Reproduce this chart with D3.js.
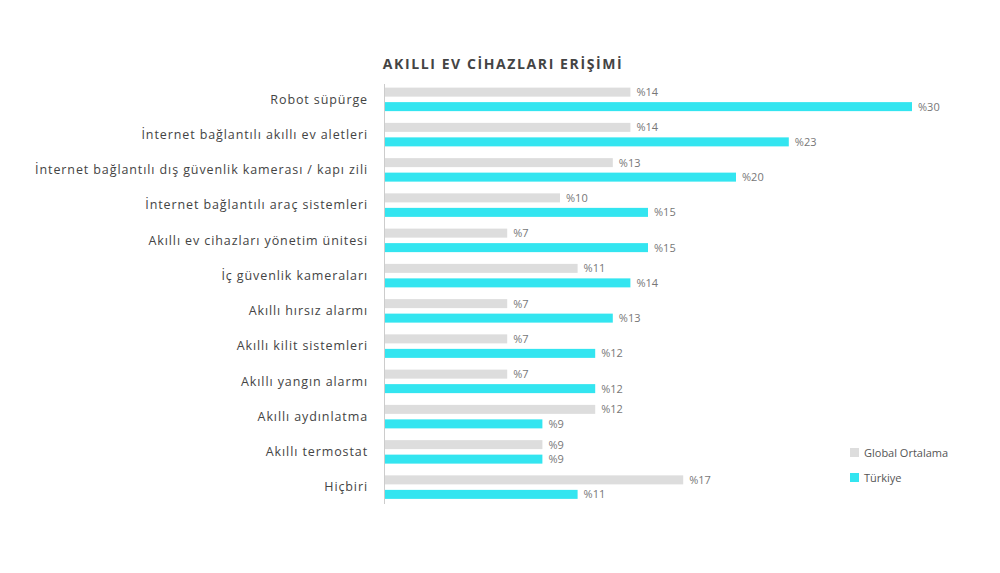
<!DOCTYPE html>
<html><head><meta charset="utf-8">
<script src="https://cdn.jsdelivr.net/npm/d3@7"></script>
<style>body{margin:0;background:#fff;font-family:"Open Sans",sans-serif;}</style>
</head><body>
<svg id="chart" width="1000" height="573"></svg>
<script>
// data
var categories = ["Robot süpürge","İnternet bağlantılı akıllı ev aletleri","İnternet bağlantılı dış güvenlik kamerası / kapı zili","İnternet bağlantılı araç sistemleri","Akıllı ev cihazları yönetim ünitesi","İç güvenlik kameraları","Akıllı hırsız alarmı","Akıllı kilit sistemleri","Akıllı yangın alarmı","Akıllı aydınlatma","Akıllı termostat","Hiçbiri"];
var globalValues = [14,14,13,10,7,11,7,7,7,12,9,17];
var turkeyValues = [30,23,20,15,15,14,13,12,12,9,9,11];
var seriesNames = ["Global Ortalama","Türkiye"];
var colors = ["#dddddd","#33e5f0"];

var svg = d3.select("#chart");
var x = d3.scaleLinear().domain([0,30]).range([384,912]);
var y = d3.scaleBand().domain(categories).range([82,505]);
var barH = 9;

svg.append("text").attr("x",503).attr("y",69).attr("text-anchor","middle")
  .attr("font-size",14).attr("font-weight","bold").attr("letter-spacing",1.6)
  .attr("fill","#444").text("AKILLI EV CİHAZLARI ERİŞİMİ");

var row = svg.selectAll("g.row").data(categories).enter().append("g").attr("class","row");
row.append("text").attr("x",368).attr("y",function(d){return y(d)+y.bandwidth()/2+4;})
  .attr("text-anchor","end").attr("font-size",12.5).attr("letter-spacing",0.9)
  .attr("fill","#444").text(function(d){return d;});

[globalValues,turkeyValues].forEach(function(vals,s){
  row.append("rect").attr("x",x(0))
    .attr("y",function(d,i){return y(d)+y.bandwidth()/2-12+s*14.5;})
    .attr("width",function(d,i){return x(vals[i])-x(0);})
    .attr("height",barH).attr("fill",colors[s]);
  row.append("text").attr("x",function(d,i){return x(vals[i])+6;})
    .attr("y",function(d,i){return y(d)+y.bandwidth()/2-12+s*14.5+8.5;})
    .attr("font-size",11).attr("fill","#777").text(function(d,i){return "%"+vals[i];});
});

svg.append("line").attr("x1",384.5).attr("x2",384.5).attr("y1",84).attr("y2",504)
  .attr("stroke","#ccc");

seriesNames.forEach(function(n,i){
  svg.append("rect").attr("x",850).attr("y",448+i*25).attr("width",9).attr("height",9).attr("fill",colors[i]);
  svg.append("text").attr("x",864).attr("y",457+i*25).attr("font-size",11).attr("fill","#555").text(n);
});
</script>
</body></html>
